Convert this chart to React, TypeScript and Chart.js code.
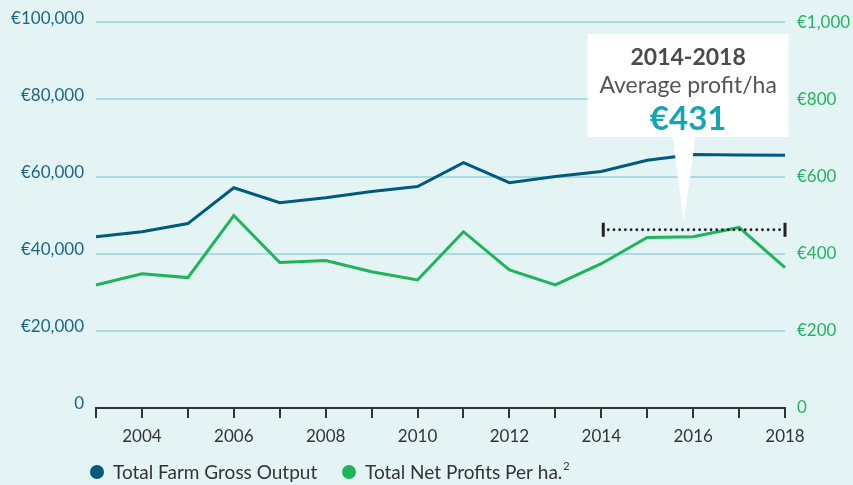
import React, { useEffect, useRef } from 'react';
import { Chart, registerables } from 'chart.js';

Chart.register(...registerables);

const years = ['2003', '2004', '2005', '2006', '2007', '2008', '2009', '2010', '2011', '2012', '2013', '2014', '2015', '2016', '2017', '2018'];
const grossOutput = [44400, 45700, 47800, 57100, 53200, 54500, 56100, 57400, 63600, 58400, 60000, 61300, 64200, 65700, 65600, 65500];
const netProfitPerHa = [319, 348, 338, 499, 377, 382, 353, 332, 457, 358, 319, 374, 442, 444, 468, 364];
const legendLabels = ['Total Farm Gross Output', 'Total Net Profits Per ha.'];
const legendSup = '2';
const calloutStart = '2014';
const calloutEnd = '2018';
const calloutLevel = 462;
const calloutLines = ['2014-2018', 'Average profit/ha', '€431'];

const BLUE = '#005a7e';
const GREEN = '#1fb35a';
const BG = '#e4f4f5';
const FONT = 'Lato';

const fmt = (v: number) => (v === 0 ? '0' : '€' + v.toLocaleString('en-US'));

const bgPlugin = {
  id: 'bg',
  beforeDraw(chart: any) {
    const { ctx, width, height } = chart;
    ctx.save();
    ctx.fillStyle = BG;
    ctx.fillRect(0, 0, width, height);
    ctx.restore();
  },
};

const calloutPlugin = {
  id: 'callout',
  afterDatasetsDraw(chart: any) {
    const { ctx, scales } = chart;
    const xs = scales.x;
    const yR = scales.yR;
    const x1 = xs.getPixelForValue(years.indexOf(calloutStart)) + 2;
    const x2 = xs.getPixelForValue(years.indexOf(calloutEnd));
    const y = yR.getPixelForValue(calloutLevel);
    ctx.save();
    // dotted line
    ctx.strokeStyle = '#222';
    ctx.lineWidth = 2.8;
    ctx.lineCap = 'round';
    ctx.setLineDash([0.01, 5.7]);
    ctx.beginPath();
    ctx.moveTo(x1 + 5, y);
    ctx.lineTo(x2 - 4, y);
    ctx.stroke();
    ctx.setLineDash([]);
    ctx.fillStyle = '#222';
    ctx.fillRect(x1 - 1.5, y - 7, 3, 14);
    ctx.fillRect(x2 - 1.5, y - 7, 3, 14);

    // box
    const cx = (x1 + x2) / 2 - 6;
    const bl = cx - 100.5;
    const bw = 201;
    const bt = 34;
    const bh = 103;
    ctx.fillStyle = '#ffffff';
    ctx.fillRect(bl, bt, bw, bh);
    ctx.beginPath();
    ctx.moveTo(cx - 15.5, bt + bh - 1);
    ctx.lineTo(cx + 7.5, bt + bh - 1);
    ctx.lineTo(cx - 4.5, y - 7);
    ctx.closePath();
    ctx.fill();

    ctx.textAlign = 'center';
    ctx.textBaseline = 'alphabetic';
    ctx.fillStyle = '#4a4a4a';
    ctx.font = `bold 23px ${FONT}`;
    ctx.fillText(calloutLines[0], cx, 65);
    ctx.fillStyle = '#555555';
    ctx.font = `23px ${FONT}`;
    ctx.fillText(calloutLines[1], cx, 93);
    ctx.fillStyle = '#13a6b2';
    ctx.font = `bold 33px ${FONT}`;
    ctx.fillText(calloutLines[2], cx, 130);
    ctx.restore();
  },
};

const legendPlugin = {
  id: 'customLegend',
  afterDraw(chart: any) {
    const { ctx } = chart;
    const y = 472;
    ctx.save();
    ctx.textBaseline = 'middle';
    ctx.textAlign = 'left';
    const items = [
      { color: BLUE, x: 97, label: legendLabels[0] },
      { color: GREEN, x: 349, label: legendLabels[1] },
    ];
    items.forEach((it, i) => {
      ctx.fillStyle = it.color;
      ctx.beginPath();
      ctx.arc(it.x, y, 7, 0, Math.PI * 2);
      ctx.fill();
      ctx.fillStyle = '#333333';
      ctx.font = `19px ${FONT}`;
      ctx.fillText(it.label, it.x + 16, y + 1);
      if (i === 1) {
        const w = ctx.measureText(it.label).width;
        ctx.font = `11px ${FONT}`;
        ctx.fillText(legendSup, it.x + 16 + w + 1, y - 6);
      }
    });
    ctx.restore();
  },
};

export default function App() {
  const ref = useRef<HTMLCanvasElement | null>(null);
  useEffect(() => {
    document.body.style.margin = '0';
    document.body.style.background = BG;
    if (!ref.current) return;
    const chart = new Chart(ref.current, {
      type: 'line',
      data: {
        labels: years,
        datasets: [
          {
            label: legendLabels[0],
            data: grossOutput,
            yAxisID: 'yL',
            borderColor: BLUE,
            backgroundColor: BLUE,
            borderWidth: 3,
            pointRadius: 0,
            tension: 0,
          },
          {
            label: legendLabels[1],
            data: netProfitPerHa,
            yAxisID: 'yR',
            borderColor: GREEN,
            backgroundColor: GREEN,
            borderWidth: 3,
            pointRadius: 0,
            tension: 0,
          },
        ],
      },
      options: {
        responsive: false,
        animation: false,
        devicePixelRatio: 1,
        layout: { padding: { top: 22, left: 0, right: 0, bottom: 0 } },
        plugins: {
          legend: { display: false },
          tooltip: { enabled: false },
          title: { display: false },
        },
        scales: {
          x: {
            type: 'category',
            offset: false,
            grid: {
              display: true,
              drawOnChartArea: false,
              drawTicks: true,
              tickLength: 10,
              color: '#333333',
              lineWidth: 2,
            },
            border: { display: true, color: '#333333', width: 2 },
            ticks: {
              autoSkip: false,
              maxRotation: 0,
              padding: 8,
              color: '#333333',
              font: { family: FONT, size: 17 },
              callback: (_v: any, i: number) => (Number(years[i]) % 2 === 0 ? years[i] : ''),
            },
            afterFit: (axis: any) => {
              axis.height = 77;
            },
          },
          yL: {
            type: 'linear',
            position: 'left',
            min: 0,
            max: 100000,
            grid: { color: '#a9dce2', lineWidth: 2, drawTicks: false },
            border: { display: false },
            ticks: {
              stepSize: 20000,
              padding: 12,
              labelOffset: -4,
              color: '#1d6585',
              font: { family: FONT, size: 17 },
              callback: (v: any) => fmt(Number(v)),
            },
            afterFit: (axis: any) => {
              axis.width = 96;
            },
          },
          yR: {
            type: 'linear',
            position: 'right',
            min: 0,
            max: 1000,
            grid: { display: false, drawOnChartArea: false, drawTicks: false },
            border: { display: false },
            ticks: {
              stepSize: 200,
              padding: 12,
              color: '#23b45e',
              font: { family: FONT, size: 17 },
              callback: (v: any) => fmt(Number(v)),
            },
            afterFit: (axis: any) => {
              axis.width = 68;
            },
          },
        },
      },
      plugins: [bgPlugin, calloutPlugin, legendPlugin],
    });
    return () => chart.destroy();
  }, []);
  return <canvas ref={ref} width={853} height={485} style={{ display: 'block' }} />;
}
